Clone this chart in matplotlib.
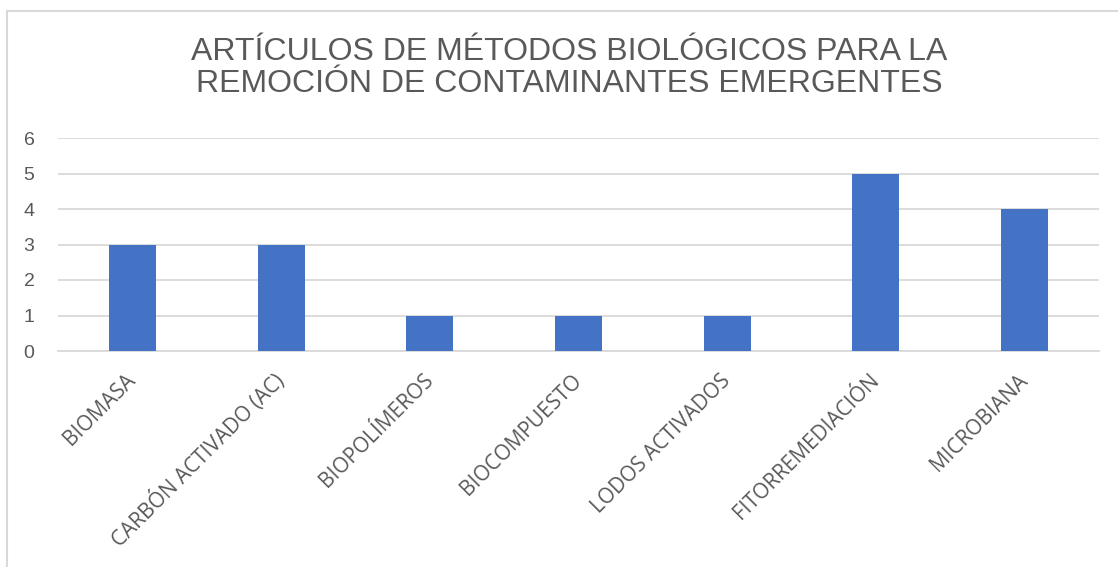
import matplotlib.pyplot as plt
from matplotlib.lines import Line2D

categorias = ['BIOMASA', 'CARBÓN ACTIVADO (AC)', 'BIOPOLÍMEROS', 'BIOCOMPUESTO',
              'LODOS ACTIVADOS', 'FITORREMEDIACIÓN', 'MICROBIANA']
articulos = [3, 3, 1, 1, 1, 5, 4]
y_ticks = [0, 1, 2, 3, 4, 5, 6]
titulo = 'ARTÍCULOS DE MÉTODOS BIOLÓGICOS PARA LA\nREMOCIÓN DE CONTAMINANTES EMERGENTES'

gris = '#595959'
fig = plt.figure(figsize=(11.18, 5.67), dpi=100)
ax = fig.add_axes([58/1118, 1 - 351/567, (1099 - 58)/1118, (351 - 138)/567])

x = range(len(categorias))
ax.bar(x, articulos, width=0.316, color='#4472C4', zorder=3)

ax.set_xlim(-0.5, len(categorias) - 0.5)
ax.set_ylim(0, 6)
ax.set_yticks(y_ticks)
ax.set_yticklabels([str(t) for t in y_ticks], fontsize=14, color=gris,
                   family=['Liberation Sans', 'DejaVu Sans'])
ax.yaxis.grid(True, color='#d9d9d9', linewidth=1.3, zorder=0)
ax.tick_params(axis='y', length=0, pad=17)

ax.set_xticks(list(x))
ax.set_xticklabels(categorias, rotation=45, ha='right', va='center',
                   rotation_mode='anchor', fontsize=15, color=gris,
                   family=['Open Sans', 'DejaVu Sans'])
ax.tick_params(axis='x', length=0, pad=19)

for s in ['top', 'right', 'left']:
    ax.spines[s].set_visible(False)
ax.spines['bottom'].set_color('#d9d9d9')
ax.spines['bottom'].set_linewidth(1.3)

fig.text(569/1118, 1 - 68/567, titulo, ha='center', va='center', fontsize=23,
         color=gris, linespacing=1.13, family=['Liberation Sans', 'DejaVu Sans'])

# marco del gráfico (sale por la derecha y por abajo)
fig.add_artist(Line2D([7/1118, 7/1118], [0, 1 - 11/567], color='#d9d9d9', lw=1.5))
fig.add_artist(Line2D([7/1118, 1], [1 - 11/567, 1 - 11/567], color='#d9d9d9', lw=1.5))

plt.savefig('out.png', dpi=100)
plt.close()
